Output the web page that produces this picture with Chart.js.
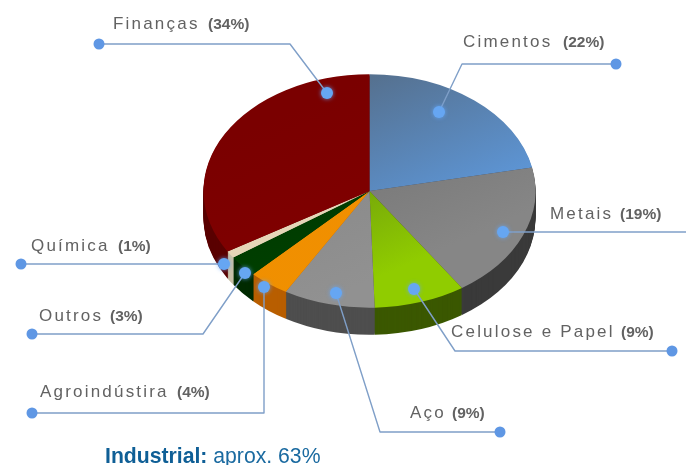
<!DOCTYPE html>
<html><head><meta charset="utf-8">
<style>html,body{margin:0;padding:0;background:#fff}canvas{display:block;filter:blur(.4px)}</style>
<script src="https://cdn.jsdelivr.net/npm/chart.js@4/dist/chart.umd.min.js"></script>
</head><body><canvas id="c" width="686" height="465"></canvas>
<script>
const categories = ['Cimentos','Metais','Celulose e Papel','Aço','Agroindústira','Outros','Química','Finanças'];
const shares = [22,19,9,9,4,3,1,34];
const topStart = ['#55708e','#6f6f6f','#597f14','#858585','#f28e00','#003500','#e6d6b8','#7a0000'];
const topEnd   = ['#5f9ee6','#868686','#90cc00','#919191','#f09000','#004200','#e6d6b8','#820000'];
const wallColors = ['#2f4a6e','#3a3a3a','#3b5800','#4e4e4e','#b85e00','#002a00','#c8c0a8','#5a0000'];
const footnoteBold = 'Industrial:';
const footnoteRest = ' aprox. 63%';

const squash = 0.703, wallDepth = 27;
const callouts = [
  {i:7,tx:113,ty:29,px:208,pts:[[99,44],[290,44],[327,93]]},
  {i:0,tx:463,ty:47,px:563,pts:[[616,64],[462,64],[439,112]]},
  {i:1,tx:550,ty:219,px:620,pts:[[686,232],[503,232]],noEndDot:true},
  {i:2,tx:451,ty:337,px:621,pts:[[672,351],[455,351],[414,289]]},
  {i:3,tx:410,ty:418,px:452,pts:[[500,432],[380,432],[336,293]]},
  {i:4,tx:40,ty:397,px:177,pts:[[32,413],[264,413],[264,287]]},
  {i:5,tx:39,ty:321,px:110,pts:[[32,334],[203,334],[245,273]]},
  {i:6,tx:31,ty:251,px:118,pts:[[21,264],[224,264]]}
];

const pie3d = {
  id:'pie3d',
  beforeDatasetsDraw(chart){
    const ctx = chart.ctx, arcs = chart.getDatasetMeta(0).data, a0 = arcs[0];
    const cx = a0.x, cy = a0.y;
    ctx.save();
    ctx.translate(cx,cy); ctx.scale(1,squash); ctx.translate(-cx,-cy);
    for(let d = wallDepth; d >= 1; d--){
      const off = d/squash;
      arcs.forEach((a,i)=>{
        ctx.fillStyle = wallColors[i];
        ctx.beginPath();
        ctx.moveTo(a.x,a.y+off);
        ctx.arc(a.x,a.y+off,a.outerRadius,a.startAngle,a.endAngle);
        ctx.closePath();
        ctx.fill();
      });
    }
  },
  afterDatasetsDraw(chart){
    chart.ctx.restore();
    const ctx = chart.ctx;
    ctx.save();
    ctx.lineJoin='round';
    callouts.forEach(c=>{
      ctx.strokeStyle='#7f9fc8'; ctx.lineWidth=1.4;
      ctx.beginPath();
      c.pts.forEach((p,k)=> k?ctx.lineTo(p[0],p[1]):ctx.moveTo(p[0],p[1]));
      ctx.stroke();
      const s=c.pts[0], e=c.pts[c.pts.length-1];
      if(!c.noEndDot){
        ctx.fillStyle='#5f97e4';
        ctx.beginPath();ctx.arc(s[0],s[1],5.5,0,Math.PI*2);ctx.fill();
      }
      ctx.shadowColor='rgba(100,170,255,.8)';ctx.shadowBlur=4;
      ctx.fillStyle='#66a6f2';
      ctx.beginPath();ctx.arc(e[0],e[1],6,0,Math.PI*2);ctx.fill();
      ctx.shadowBlur=0;
      ctx.textBaseline='alphabetic';ctx.fillStyle='#626262';
      ctx.filter='blur(.6px)';
      ctx.font='17px "Liberation Sans"';ctx.letterSpacing='2.2px';
      ctx.fillText(categories[c.i],c.tx,c.ty);
      ctx.font='bold 15.5px "Liberation Sans"';ctx.letterSpacing='0px';
      ctx.fillText('('+shares[c.i]+'%)',c.px,c.ty);
      ctx.filter='none';
    });
    ctx.letterSpacing='0px';
    ctx.font='bold 21.2px "Liberation Sans"';ctx.fillStyle='#0f5f96';
    ctx.fillText(footnoteBold,105,463);
    const w=ctx.measureText(footnoteBold).width;
    ctx.font='21.2px "Liberation Sans"';ctx.fillStyle='#1a6aa0';
    ctx.fillText(footnoteRest,105+w,463);
    ctx.restore();
  }
};

new Chart(document.getElementById('c'),{
  type:'pie',
  plugins:[pie3d],
  data:{labels:categories,datasets:[{
    data:shares,
    borderWidth:0,
    backgroundColor(ctx){
      const chart=ctx.chart, area=chart.chartArea, i=ctx.dataIndex;
      if(!area) return topEnd[i];
      const g=chart.ctx.createLinearGradient(area.left+150,area.top+10,area.right-50,area.bottom-110);
      g.addColorStop(0,topStart[i]);g.addColorStop(1,topEnd[i]);
      return g;
    }
  }]},
  options:{
    responsive:false,animation:false,
    layout:{padding:{left:203.5,right:150.5,top:25,bottom:108}},
    plugins:{legend:{display:false},tooltip:{enabled:false}}
  }
});
</script></body></html>
